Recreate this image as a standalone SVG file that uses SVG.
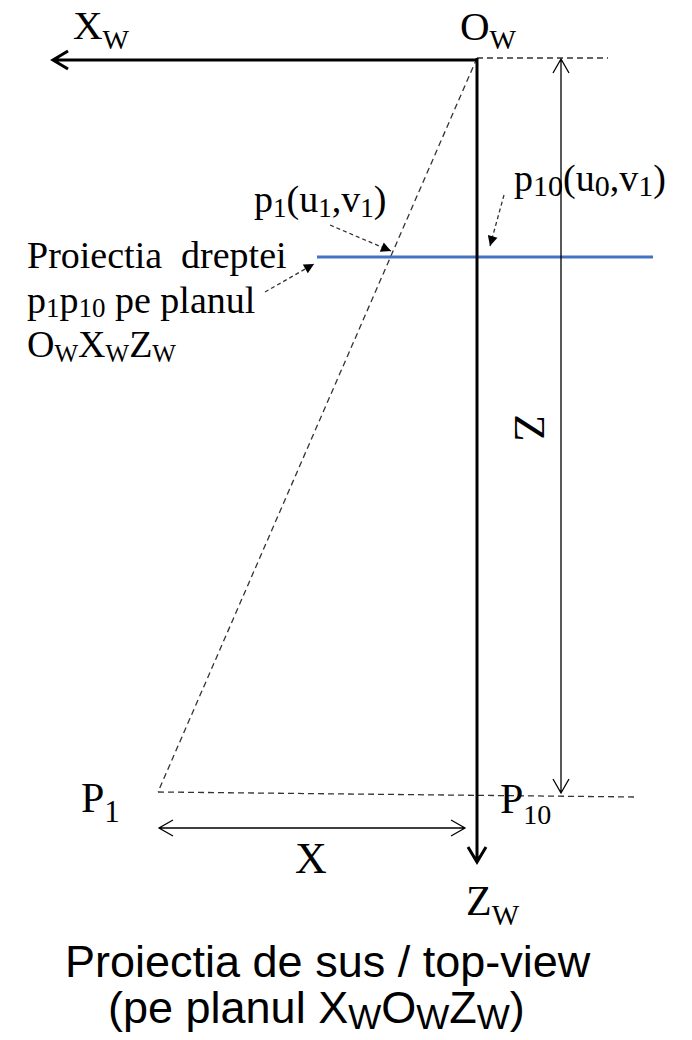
<svg xmlns="http://www.w3.org/2000/svg" width="692" height="1040" viewBox="0 0 692 1040">
<style>
.t{font-family:"Liberation Serif","Times New Roman",serif;fill:#000}
.a{font-family:"Liberation Sans",Arial,sans-serif;fill:#000}
.axis{stroke:#000;stroke-width:3;fill:none}
.thin{stroke:#000;stroke-width:1.3;fill:none}
.dash{stroke:#333;stroke-width:1.3;fill:none;stroke-dasharray:6 4}
.darr{stroke:#333;stroke-width:1.3;fill:none;stroke-dasharray:4 3}
</style>
<defs>
<marker id="tri" viewBox="0 0 10 10" refX="10" refY="5" markerWidth="12" markerHeight="10" markerUnits="userSpaceOnUse" orient="auto">
<path d="M0,0 L10,5 L0,10 z" fill="#000"/>
</marker>
</defs>
<rect width="692" height="1040" fill="#fff"/>
<g id="connectors">
<line class="dash" x1="477" y1="58" x2="608" y2="58"/>
<line class="dash" x1="477" y1="58" x2="158" y2="792"/>
<line class="dash" x1="158" y1="792" x2="636" y2="797"/>
<line x1="317" y1="257" x2="653" y2="257" stroke="#4472C4" stroke-width="3"/>
<path class="axis" d="M477,60 L53,60 M68,51 L53,60 L68,69"/>
<path class="axis" d="M477,58 L477,862 M468,847 L477,862 L486,847"/>
<path class="thin" d="M561,59 L561,793 M553,73 L561,59 L569,73 M553,779 L561,793 L569,779"/>
<path class="thin" d="M159,828 L465,828 M173,820 L159,828 L173,836 M451,820 L465,828 L451,836"/>
<line class="darr" x1="330" y1="225" x2="391" y2="251" marker-end="url(#tri)"/>
<line class="darr" x1="265" y1="292" x2="314" y2="264" marker-end="url(#tri)"/>
<line class="darr" x1="504" y1="195" x2="490" y2="246" marker-end="url(#tri)"/>
</g>
<g id="label-xw"><text class="t" x="73" y="39" font-size="41">X<tspan font-size="28" dy="10">W</tspan></text></g>
<g id="label-ow"><text class="t" x="460" y="40" font-size="41">O<tspan font-size="28" dy="9">W</tspan></text></g>
<g id="label-p1small"><text class="t" x="254" y="212" font-size="38">p<tspan font-size="27" dy="5">1</tspan><tspan dy="-5">(u</tspan><tspan font-size="27" dy="5">1</tspan><tspan dy="-5">,v</tspan><tspan font-size="27" dy="5">1</tspan><tspan dy="-5">)</tspan></text></g>
<g id="label-p10small"><text class="t" x="514" y="191" font-size="38">p<tspan font-size="30" dy="5">10</tspan><tspan dy="-5">(u</tspan><tspan font-size="30" dy="5">0</tspan><tspan dy="-5">,v</tspan><tspan font-size="30" dy="5">1</tspan><tspan dy="-5">)</tspan></text></g>
<g id="label-proiectia">
<text class="t" x="27" y="268" font-size="38" xml:space="preserve">Proiectia  dreptei</text>
<text class="t" x="27" y="313" font-size="38">p<tspan font-size="27" dy="4">1</tspan><tspan dy="-4">p</tspan><tspan font-size="27" dy="4">10</tspan><tspan dy="-4"> pe planul</tspan></text>
<text class="t" x="27" y="357" font-size="38">O<tspan font-size="25" dy="5">W</tspan><tspan dy="-5">X</tspan><tspan font-size="25" dy="5">W</tspan><tspan dy="-5">Z</tspan><tspan font-size="25" dy="5">W</tspan></text>
</g>
<g id="label-z"><text class="t" font-size="44" text-anchor="middle" x="0" y="15" transform="translate(530,428) rotate(90)">Z</text></g>
<g id="label-P1"><text class="t" x="81" y="812" font-size="42">P<tspan font-size="31" dy="10">1</tspan></text></g>
<g id="label-P10"><text class="t" x="500" y="813" font-size="42">P<tspan font-size="28" dy="11">10</tspan></text></g>
<g id="label-x"><text class="t" x="295" y="873" font-size="44">X</text></g>
<g id="label-zw"><text class="t" x="466" y="915" font-size="42">Z<tspan font-size="29" dy="10">W</tspan></text></g>
<g id="title">
<text class="a" x="65" y="977" font-size="45">Proiectia de sus / top-view</text>
<text class="a" x="108" y="1023" font-size="45">(pe planul X<tspan font-size="35" dy="6">W</tspan><tspan dy="-6">O</tspan><tspan font-size="35" dy="6">W</tspan><tspan dy="-6">Z</tspan><tspan font-size="35" dy="6">W</tspan><tspan dy="-6">)</tspan></text>
</g>
</svg>
